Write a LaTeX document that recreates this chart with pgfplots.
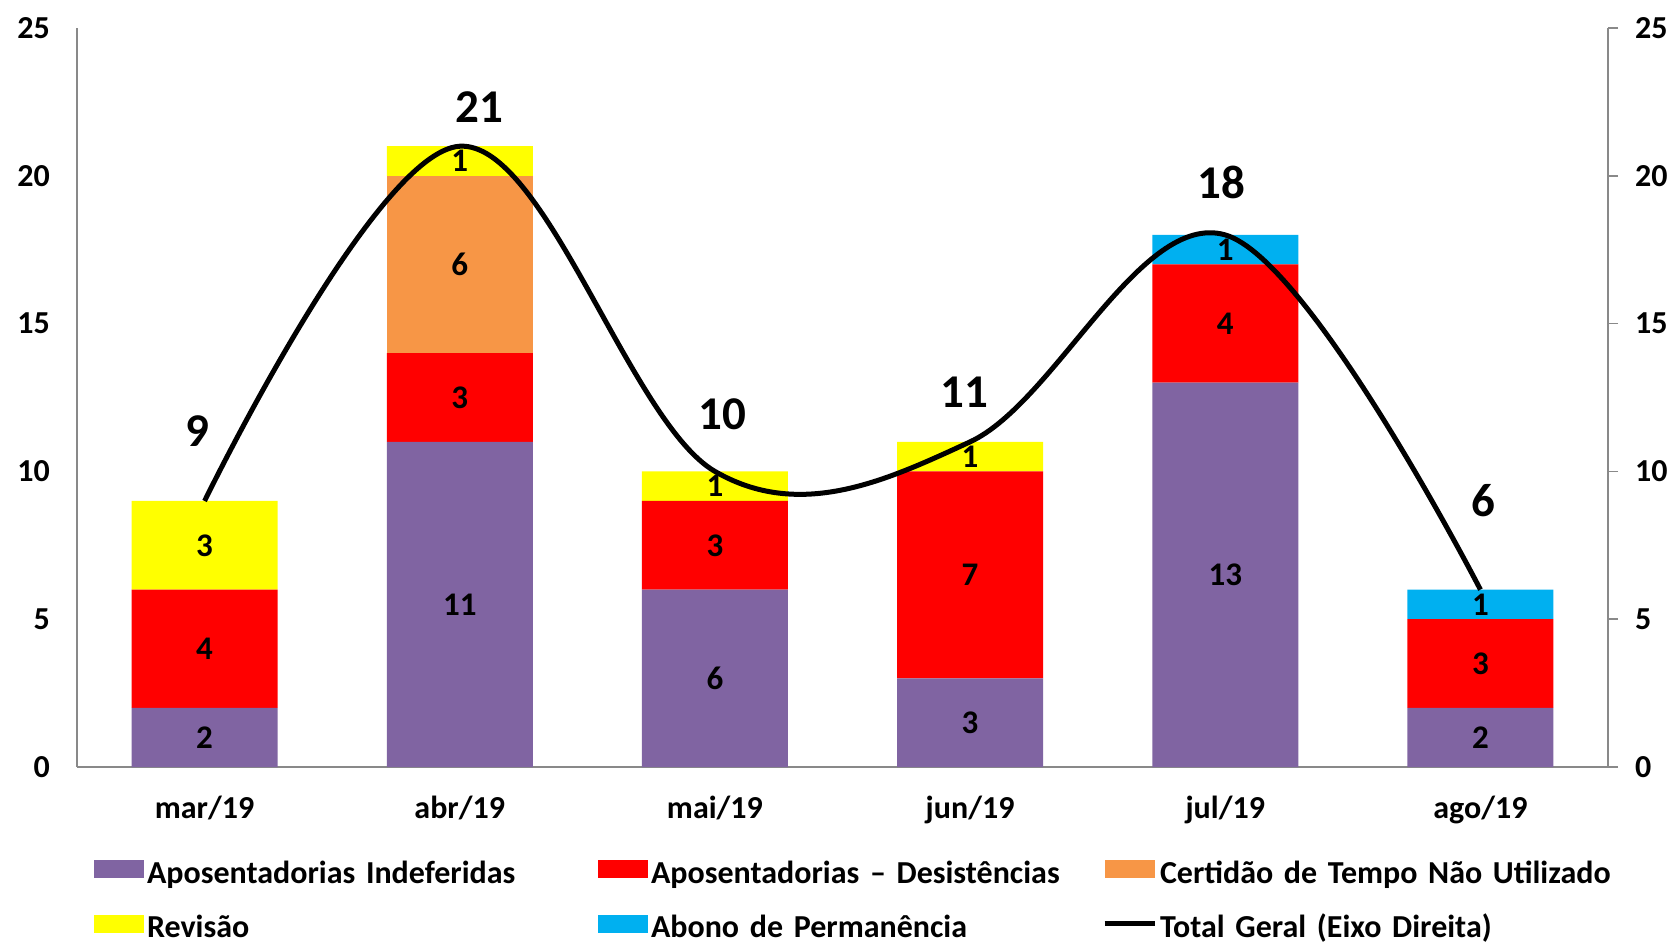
\documentclass[border=0pt]{standalone}
\usepackage{fontspec}
\setmainfont{Carlito}
\newfontfamily\legfont{Carlito}[WordSpace=0.65]
\usepackage{pgfplots}
\usepackage{pgfplotstable}
\pgfplotsset{compat=1.18}

\definecolor{cIndef}{HTML}{8064A2}
\definecolor{cDesist}{HTML}{FF0000}
\definecolor{cCert}{HTML}{F79646}
\definecolor{cRev}{HTML}{FFFF00}
\definecolor{cAbono}{HTML}{00B0F0}
\definecolor{eixo}{HTML}{898989}

% valores por mes
\pgfplotstableread{
x ind des cert rev abo tot
0 2  4 0 3 0 9
1 11 3 6 1 0 21
2 6  3 0 1 0 10
3 3  7 0 1 0 11
4 13 4 0 0 1 18
5 2  3 0 0 1 6
}\dados

% rotulos dentro das barras (meio de cada segmento)
\pgfplotstableread{
x y lab
0 1    2
0 4    4
0 7.5  3
1 5.5  11
1 12.5 3
1 17   6
1 20.5 1
2 3    6
2 7.5  3
2 9.5  1
3 1.5  3
3 6.5  7
3 10.5 1
4 6.5  13
4 15   4
4 17.5 1
5 1    2
5 3.5  3
5 5.5  1
}\rotulos

% totais acima das barras
\pgfplotstableread{
x y lab
-0.03 11.38 9
1.077 22.33 21
2.03  11.92 10
2.977 12.68 11
3.985 19.76 18
5.01  9.0   6
}\totais

\newcommand{\tickfont}{\bfseries\fontsize{16}{16}\selectfont}

\pgfplotsset{
  base/.style={
    scale only axis, width=765.5pt, height=369.5pt,
    at={(0,0)}, anchor=south west,
    xmin=-0.5, xmax=5.5, ymin=0, ymax=25,
    ytick={0,5,...,25},
    clip=false,
    axis line style={draw=eixo, line width=0.8pt},
    tick style={draw=eixo, line width=0.8pt},
    /pgf/number format/assume math mode=true,
    tick label style={font=\tickfont, text=black},
  },
  caixa/.style={legend image code/.code={
      \fill[##1] (0pt,-2.5pt) rectangle (25pt,6.5pt);}},
  linha/.style={legend image code/.code={
      \draw[##1] (0pt,2pt) -- (25pt,2pt);}},
}

\begin{document}
\begin{tikzpicture}
\begin{axis}[
    base,
    ybar stacked,
    bar width=73pt,
    axis x line*=bottom,
    axis y line*=left,
    xtick={0,...,5},
    xticklabels={mar/19, abr/19, mai/19, jun/19, jul/19, ago/19},
    major tick length=0pt,
    xticklabel style={yshift=-11pt},
    yticklabel style={xshift=-10pt},
    legend columns=3,
    legend cell align=left,
    legend style={
        at={(0,0)}, anchor=north west,
        xshift=5.3pt, yshift=-44.5pt,
        draw=none, fill=none,
        font=\legfont\bfseries\fontsize{16}{16}\selectfont,
        row sep=14pt,
        nodes={inner xsep=1.5pt, inner ysep=0pt, text width=235pt, align=left},
        /tikz/every even column/.append style={column sep=-11pt},
    },
]
\addplot[fill=cIndef, draw=none, caixa] table[x=x, y=ind]{\dados};
\addlegendentry{Aposentadorias Indeferidas}
\addplot[fill=cDesist, draw=none, caixa] table[x=x, y=des]{\dados};
\addlegendentry{Aposentadorias – Desistências}
\addplot[fill=cCert, draw=none, caixa] table[x=x, y=cert]{\dados};
\addlegendentry{Certidão de Tempo Não Utilizado}
\addplot[fill=cRev, draw=none, caixa] table[x=x, y=rev]{\dados};
\addlegendentry{Revisão}
\addplot[fill=cAbono, draw=none, caixa] table[x=x, y=abo]{\dados};
\addlegendentry{Abono de Permanência}
\addlegendimage{black, line width=2.5pt, linha}
\addlegendentry{Total Geral (Eixo Direita)}
\end{axis}

\begin{axis}[
    base,
    axis x line=none,
    axis y line*=right,
    tick align=outside,
    major tick length=5pt,
    yticklabel style={xshift=5pt},
]
\addplot[black, line width=2.5pt, smooth, tension=0.6] table[x=x, y=tot]{\dados};
\addplot[only marks, mark=none, nodes near coords, point meta=explicit symbolic,
    nodes near coords align=center,
    every node near coord/.append style={font=\bfseries\fontsize{16.5}{16.5}\selectfont, text=black, inner sep=0pt}]
    table[x=x, y=y, meta=lab]{\rotulos};
\addplot[only marks, mark=none, nodes near coords, point meta=explicit symbolic,
    nodes near coords align=center,
    every node near coord/.append style={font=\bfseries\fontsize{23.5}{23.5}\selectfont, text=black, inner sep=0pt}]
    table[x=x, y=y, meta=lab]{\totais};
\end{axis}
\pgfresetboundingbox
\path[use as bounding box] (-38.5pt,-87.5pt) rectangle (798pt,383.5pt);
\end{tikzpicture}
\end{document}
